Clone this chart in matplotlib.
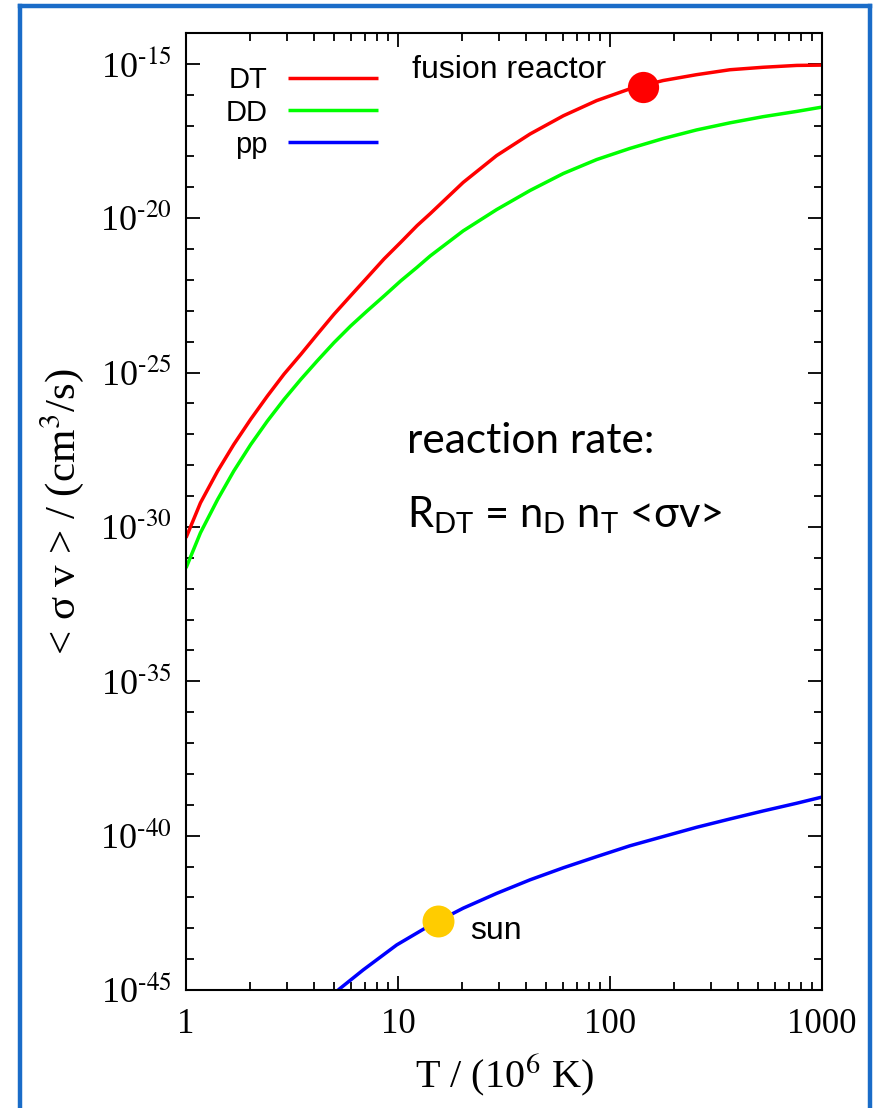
import numpy as np
import matplotlib
matplotlib.use("Agg")
import matplotlib.pyplot as plt
from matplotlib.ticker import FixedLocator, FuncFormatter, NullFormatter
from matplotlib.lines import Line2D

# ---------------- data ----------------
T_fusion = [1.0, 1.17, 1.41, 1.68, 2.02, 2.42, 2.90, 3.48, 4.16, 4.99, 5.98, 7.16,
            8.59, 10.3, 12.3, 14.2, 20.3, 29.2, 42.0, 60.3, 86.5, 124, 178, 256,
            368, 528, 760, 1000]
log_sv_DT = [-30.35, -29.22, -28.19, -27.33, -26.51, -25.76, -25.05, -24.41, -23.76,
             -23.11, -22.51, -21.92, -21.32, -20.78, -20.24, -19.85, -18.84, -17.97,
             -17.27, -16.68, -16.19, -15.81, -15.54, -15.35, -15.19, -15.11, -15.05,
             -15.04]
log_sv_DD = [-31.33, -30.19, -29.11, -28.19, -27.33, -26.57, -25.87, -25.22, -24.62,
             -24.03, -23.49, -23.00, -22.52, -22.03, -21.59, -21.22, -20.41, -19.72,
             -19.10, -18.55, -18.10, -17.74, -17.42, -17.14, -16.91, -16.71, -16.54,
             -16.40]

T_pp = [5.22, 6.85, 9.86, 14.2, 20.3, 29.2, 42.0, 60.3, 86.5, 124, 178, 256, 368,
        528, 760, 1000]
log_sv_pp = [-45.0, -44.35, -43.54, -42.9, -42.35, -41.87, -41.43, -41.04, -40.68,
             -40.33, -40.03, -39.73, -39.46, -39.2, -38.95, -38.75]

series_labels = ["DT", "DD", "pp"]
series_colors = ["#ff0000", "#00ff00", "#0000ff"]

reactor_T = [143]
reactor_log_sv = [-15.74]
sun_T = [15.4]
sun_log_sv = [-42.76]

x_ticks = [1, 10, 100, 1000]
x_ticklabels = ["1", "10", "100", "1000"]
y_major_exp = [-45, -40, -35, -30, -25, -20, -15]

# ---------------- figure ----------------
plt.rcParams["font.family"] = ["Liberation Serif", "DejaVu Serif"]
plt.rcParams["mathtext.fontset"] = "stix"
plt.rcParams["mathtext.rm"] = "Lato"
plt.rcParams["mathtext.it"] = "Lato:italic"
plt.rcParams["mathtext.bf"] = "Lato:bold"

fig = plt.figure(figsize=(8.75, 11.08), dpi=100)
ax = fig.add_axes([186 / 875, 1 - 990 / 1108, 636 / 875, 957 / 1108])

for lab, col, Ts, ly in zip(series_labels, series_colors,
                            [T_fusion, T_fusion, T_pp],
                            [log_sv_DT, log_sv_DD, log_sv_pp]):
    ax.plot(Ts, 10.0 ** np.array(ly), color=col, lw=2.5, label=lab,
            solid_capstyle="butt", solid_joinstyle="round")

ax.plot(reactor_T, 10.0 ** np.array(reactor_log_sv), "o", color="#ff0000",
        ms=22.5, mec="none", zorder=5)
ax.plot(sun_T, 10.0 ** np.array(sun_log_sv), "o", color="#ffcc00",
        ms=23, mec="none", zorder=5)

ax.set_xscale("log")
ax.set_yscale("log")
ax.set_xlim(1, 1000)
ax.set_ylim(1e-45, 1e-14)

ax.xaxis.set_major_locator(FixedLocator(x_ticks))
ax.xaxis.set_major_formatter(FuncFormatter(
    lambda v, p: x_ticklabels[x_ticks.index(int(round(v)))] if int(round(v)) in x_ticks else ""))
minor_x = [m * 10 ** e for e in range(0, 3) for m in range(2, 10)]
ax.xaxis.set_minor_locator(FixedLocator(minor_x))
ax.xaxis.set_minor_formatter(NullFormatter())

ax.yaxis.set_major_locator(FixedLocator([10.0 ** e for e in y_major_exp]))
ax.yaxis.set_major_formatter(FuncFormatter(
    lambda v, p: r"10$^{\text{%d}}$" % int(round(np.log10(v)))))
minor_y = [10.0 ** e for e in range(-44, -13) if e not in y_major_exp]
ax.yaxis.set_minor_locator(FixedLocator(minor_y))
ax.yaxis.set_minor_formatter(NullFormatter())

ax.tick_params(which="both", direction="in", top=True, right=True, width=1.3, color="black")
ax.tick_params(which="major", length=10)
ax.tick_params(which="minor", length=5.5)
ax.tick_params(axis="y", which="major", labelsize=26, pad=10)
ax.tick_params(axis="x", which="major", labelsize=25, pad=13)
for s in ax.spines.values():
    s.set_linewidth(1.5)

ax.set_xlabel("T / (10$^{6}$ K)", fontsize=29, labelpad=7)
ax.set_ylabel("< σ v > / (cm$^{3}$/s)", fontsize=31, labelpad=10)

leg = ax.legend(loc="upper left", bbox_to_anchor=(0.062, 0.965), frameon=False,
                markerfirst=False, handlelength=3.1, handletextpad=0.7,
                labelspacing=0.14, borderpad=0, borderaxespad=0,
                prop={"family": "Liberation Sans", "size": 21})

ax.text(0.3553, 0.953, "fusion reactor", transform=ax.transAxes, ha="left",
        va="baseline", fontsize=23, family="Liberation Sans")
ax.text(0.4465, 0.0533, "sun", transform=ax.transAxes, ha="left",
        va="baseline", fontsize=23, family="Liberation Sans")

ax.text(0.3475, 0.561, "reaction rate:", transform=ax.transAxes, ha="left",
        va="baseline", fontsize=30.5, family="Lato")
ax.text(0.3475, 0.4838,
        r"R$_{\mathrm{DT}}$ = n$_{\mathrm{D}}$ n$_{\mathrm{T}}$ <$\mathrm{\sigma}$v>",
        transform=ax.transAxes, ha="left", va="baseline", fontsize=30,
        family="Lato", math_fontfamily="custom")

# blue frame around the figure
frame_col = "#1a6cc8"
for xs, yv in [([20 / 875, 20 / 875], [0, 1 - 6 / 1108]),
               ([20 / 875, 870 / 875], [1 - 6 / 1108, 1 - 6 / 1108]),
               ([870 / 875, 870 / 875], [1 - 6 / 1108, 0])]:
    fig.add_artist(Line2D(xs, yv, transform=fig.transFigure, color=frame_col, lw=3.2,
                          solid_capstyle="projecting"))

fig.savefig("out.png", dpi=100)
